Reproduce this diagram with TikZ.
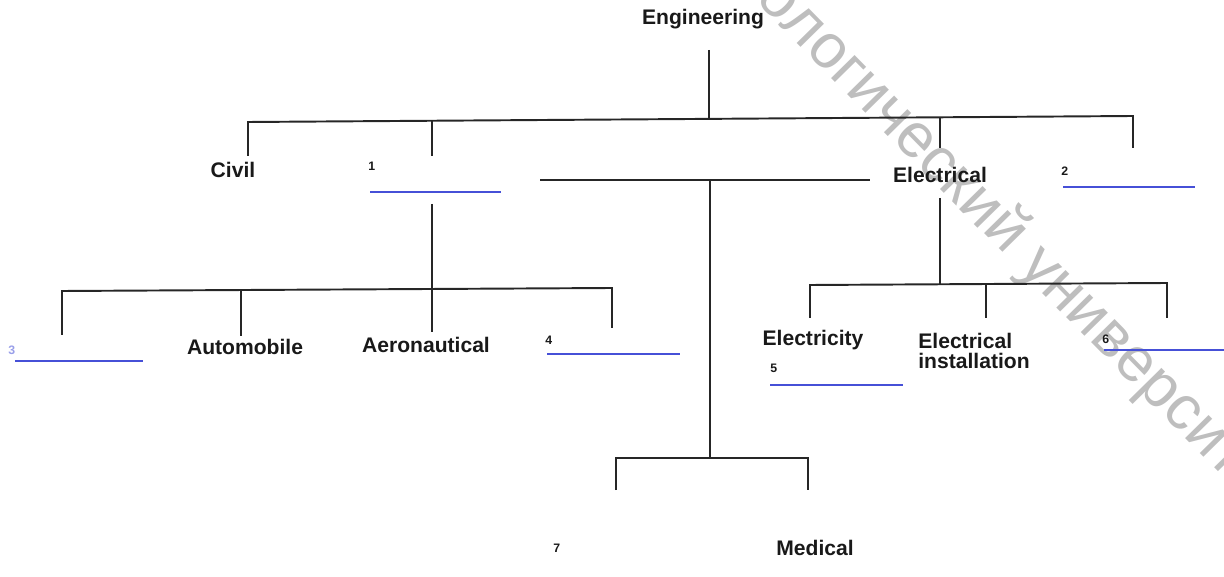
\documentclass[tikz,border=0pt]{standalone}
\usepackage{fontspec}
\setmainfont{Liberation Sans}
\usetikzlibrary{decorations.text}
\definecolor{blankblue}{RGB}{70,80,215}
\definecolor{wmgray}{RGB}{190,190,190}

\begin{document}
\begin{tikzpicture}[x=0.02cm,y=-0.02cm]
      \tikzset{
        every node/.style={inner sep=0pt,text=black!90,font=\bfseries\fontsize{12}{11.5}\selectfont},
        num/.style={anchor=west,font=\bfseries\fontsize{7}{8}\selectfont},
        bar/.style={line width=1.1pt,draw=black!85},
        blank/.style={line width=0.9pt,draw=blankblue}
      }
      \useasboundingbox (0,0) rectangle (1224,577);

      % watermark
      \begin{scope}[y=0.02cm]
        \path[decorate,decoration={text along path,text align=left,
          text={|\fontsize{35.5}{36}\selectfont\color{wmgray}|технологический университет}}]
          (664,92) -- ++(-45.5:1200);
      \end{scope}

      \node (eng) at (703,19) {Engineering};
      \node (civil) at (233,170) {Civil};
      \node[num] (n1) at (368,166) {1};
      \node (elec) at (940,175) {Electrical};
      \node[num] (n2) at (1061,171) {2};
      \node[num,text=blankblue!55] (n3) at (8,350) {3};
      \node (auto) at (245,347) {Automobile};
      \node (aero) at (426,345) {Aeronautical};
      \node[num] (n4) at (545,340) {4};
      \node (elty) at (813,340) {Electricity};
      \node[num] (n5) at (770,368) {5};
      \node[anchor=west,align=left] (inst) at (918,351) {Electrical\\installation};
      \node[num] (n6) at (1102,339) {6};
      \node[num] (n7) at (553,548) {7};
      \node (med) at (815,548) {Medical};

      % blanks to fill in
      \draw[blank] (n1.west) ++(2,26) -- ++(131,0);
      \draw[blank] (n2.west) ++(2,16) -- ++(132,0);
      \draw[blank] (n3.west) ++(7,11) -- ++(128,0);
      \draw[blank] (n4.west) ++(2,14) -- ++(133,0);
      \draw[blank] (n5.west) ++(0,17) -- ++(133,0);
      \draw[blank] (n6.west) ++(2,11) -- ++(125,0);

      % top level
      \coordinate (e0) at (709,50);
      \coordinate (e1) at (709,120);
      \coordinate (c0) at (248,122);
      \coordinate (c1) at (248,156);
      \coordinate (m0) at (432,121);
      \coordinate (m1) at (432,156);
      \coordinate (l0) at (940,117);
      \coordinate (l1) at (940,148);
      \coordinate (x0) at (1133,116);
      \coordinate (x1) at (1133,148);
      \draw[bar] (e0) -- (e1);
      \draw[bar] (c1) -- (c0) -- (x0) -- (x1);
      \draw[bar] (m0) -- (m1);
      \draw[bar] (l0) -- (l1);

      % middle branch
      \coordinate (b0) at (540,180);
      \coordinate (b1) at (870,180);
      \coordinate (b2) at (710,180);
      \coordinate (b3) at (710,458);
      \draw[bar] (b0) -- (b1);
      \draw[bar] (b2) -- (b3);

      % mechanical branch
      \coordinate (k0) at (432,204);
      \coordinate (k1) at (432,290);
      \draw[bar] (k0) -- (k1);
      \draw[bar] (62,335) -- (62,291) -- (612,288) -- (612,328);
      \draw[bar] (241,290) -- (241,336);
      \draw[bar] (k1) -- (432,332);

      % electrical branch
      \coordinate (r0) at (940,198);
      \coordinate (r1) at (940,284);
      \draw[bar] (r0) -- (r1);
      \draw[bar] (810,318) -- (810,285) -- (1167,283) -- (1167,318);
      \draw[bar] (986,284) -- (986,318);

      % bottom branch
      \draw[bar] (616,490) -- (616,458) -- (808,458) -- (808,490);
\end{tikzpicture}
\end{document}
